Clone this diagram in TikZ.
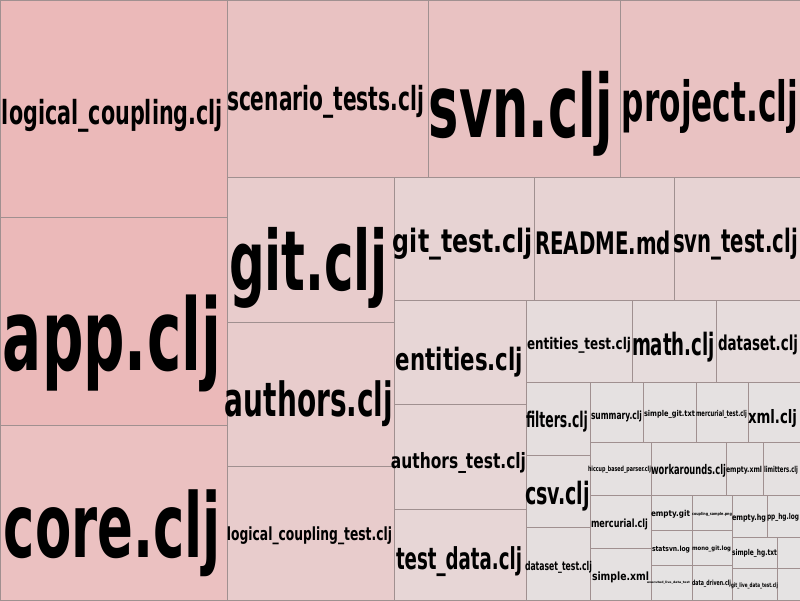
\documentclass[tikz,border=0pt]{standalone}
\usepackage{fontspec}
\setmainfont{DejaVu Sans Condensed}
\usepackage{graphicx}
\definecolor{linec}{RGB}{160,144,144}
\definecolor{cA}{RGB}{235,185,185}
\definecolor{cAb}{RGB}{235,193,193}
\definecolor{cB}{RGB}{233,194,194}
\definecolor{cC}{RGB}{232,204,204}
\definecolor{cD}{RGB}{231,211,211}
\definecolor{cE}{RGB}{231,214,214}
\definecolor{cF}{RGB}{230,220,220}
\definecolor{cG}{RGB}{229,223,223}
\definecolor{cH}{RGB}{229,225,225}
\definecolor{cI}{RGB}{229,227,227}
\newcommand\tmcell[5]{\filldraw[tmcellstyle, fill=#1] (#2,#3) rectangle (#4,#5);}
\newcommand\tmlab[6]{%
  \pgfmathsetlengthmacro\tmw{#4-#2}%
  \pgfmathsetlengthmacro\tmh{#5-#3}%
  \node[tmlbl] (#1) at ({(#2+#4)/2},{(#3+#5)/2}) {\resizebox*{\tmw}{\tmh}{#6}};}
\begin{document}
\begin{tikzpicture}[x=1pt,y=-1pt,
  tmcellstyle/.style={draw=linec, line width=1pt},
  tmlbl/.style={inner sep=0pt, outer sep=0pt, text=black, font=\bfseries}]
\useasboundingbox (0,0) rectangle (800,600);
% cells
\tmcell{cA}{0}{0}{227}{217}
\tmcell{cA}{0}{217}{227}{425}
\tmcell{cAb}{0}{425}{227}{600}
\tmcell{cB}{227}{0}{428}{177}
\tmcell{cB}{428}{0}{620}{177}
\tmcell{cB}{620}{0}{800}{177}
\tmcell{cC}{227}{177}{394}{322}
\tmcell{cC}{227}{322}{394}{466}
\tmcell{cC}{227}{466}{394}{600}
\tmcell{cD}{394}{177}{534}{300}
\tmcell{cD}{534}{177}{674}{300}
\tmcell{cD}{674}{177}{800}{300}
\tmcell{cE}{394}{300}{526}{404}
\tmcell{cE}{394}{404}{526}{509}
\tmcell{cE}{394}{509}{526}{600}
\tmcell{cF}{526}{300}{632}{382}
\tmcell{cF}{632}{300}{716}{382}
\tmcell{cF}{716}{300}{800}{382}
\tmcell{cG}{526}{382}{590}{455}
\tmcell{cG}{526}{455}{590}{527}
\tmcell{cG}{526}{527}{590}{600}
\tmcell{cH}{590}{382}{643}{442}
\tmcell{cH}{643}{382}{696}{442}
\tmcell{cH}{696}{382}{748}{442}
\tmcell{cH}{748}{382}{800}{442}
\tmcell{cH}{590}{442}{651}{495}
\tmcell{cH}{651}{442}{726}{495}
\tmcell{cH}{726}{442}{763}{495}
\tmcell{cH}{763}{442}{800}{495}
\tmcell{cH}{590}{495}{651}{548}
\tmcell{cH}{590}{548}{651}{600}
\tmcell{cI}{651}{495}{692}{530}
\tmcell{cI}{692}{495}{732}{530}
\tmcell{cI}{651}{530}{692}{565}
\tmcell{cI}{692}{530}{732}{565}
\tmcell{cI}{651}{565}{692}{600}
\tmcell{cI}{692}{565}{732}{600}
\tmcell{cI}{732}{495}{767}{537}
\tmcell{cI}{767}{495}{800}{537}
\tmcell{cI}{732}{537}{777}{568}
\tmcell{cI}{732}{568}{777}{600}
\tmcell{cI}{777}{537}{800}{568}
\tmcell{cI}{777}{568}{800}{600}
% labels
\tmlab{l1}{2}{99}{223}{132}{logical\_coupling.clj}
\tmlab{l2}{3}{295}{221}{392}{app.clj}
\tmlab{l3}{4}{490}{221}{577}{core.clj}
\tmlab{l4}{227}{85}{424}{118}{scenario\_tests.clj}
\tmlab{l5}{429}{71}{613}{156}{svn.clj}
\tmlab{l6}{622}{79}{798}{133}{project.clj}
\tmlab{l7}{229}{227}{388}{308}{git.clj}
\tmlab{l8}{225}{381}{393}{427}{authors.clj}
\tmlab{l9}{227}{527}{392}{545}{logical\_coupling\_test.clj}
\tmlab{l10}{393}{228}{533}{260}{git\_test.clj}
\tmlab{l11}{535}{231}{671}{255}{README.md}
\tmlab{l12}{673}{228}{798}{260}{svn\_test.clj}
\tmlab{l13}{396}{347}{523}{377}{entities.clj}
\tmlab{l14}{391}{452}{526}{473}{authors\_test.clj}
\tmlab{l15}{396}{547}{522}{577}{test\_data.clj}
\tmlab{l16}{527}{337}{631}{353}{entities\_test.clj}
\tmlab{l17}{632}{332}{715}{362}{math.clj}
\tmlab{l18}{718}{335}{798}{355}{dataset.clj}
\tmlab{l19}{526}{411}{588}{432}{filters.clj}
\tmlab{l20}{525}{481}{590}{511}{csv.clj}
\tmlab{l21}{525}{561}{592}{573}{dataset\_test.clj}
\tmlab{l22}{591}{411}{642}{422}{summary.clj}
\tmlab{l23}{644}{410}{695}{418}{simple\_git.txt}
\tmlab{l24}{696}{410}{747}{418}{mercurial\_test.clj}
\tmlab{l25}{748}{409}{797}{427}{xml.clj}
\tmlab{l26}{588}{466}{651}{473}{hiccup\_based\_parser.clj}
\tmlab{l27}{651}{464}{726}{477}{workarounds.clj}
\tmlab{l28}{726}{466}{762}{474}{empty.xml}
\tmlab{l29}{764}{466}{798}{474}{limitters.clj}
\tmlab{l30}{591}{519}{648}{530}{mercurial.clj}
\tmlab{l31}{592}{572}{649}{583}{simple.xml}
\tmlab{l32}{651}{510}{690}{518}{empty.git}
\tmlab{l33}{692}{512}{732}{516}{coupling\_sample.png}
\tmlab{l34}{652}{546}{690}{553}{statsvn.log}
\tmlab{l35}{692}{546}{731}{552}{mono\_git.log}
\tmlab{l36}{647}{581}{690}{584}{executed\_live\_data\_test}
\tmlab{l37}{692}{580}{731}{587}{data\_driven.clj}
\tmlab{l38}{732}{514}{766}{522}{empty.hg}
\tmlab{l39}{767}{513}{799}{521}{pp\_hg.log}
\tmlab{l40}{732}{549}{777}{557}{simple\_hg.txt}
\tmlab{l41}{731}{583}{778}{589}{git\_live\_data\_test.clj}
\end{tikzpicture}
\end{document}
